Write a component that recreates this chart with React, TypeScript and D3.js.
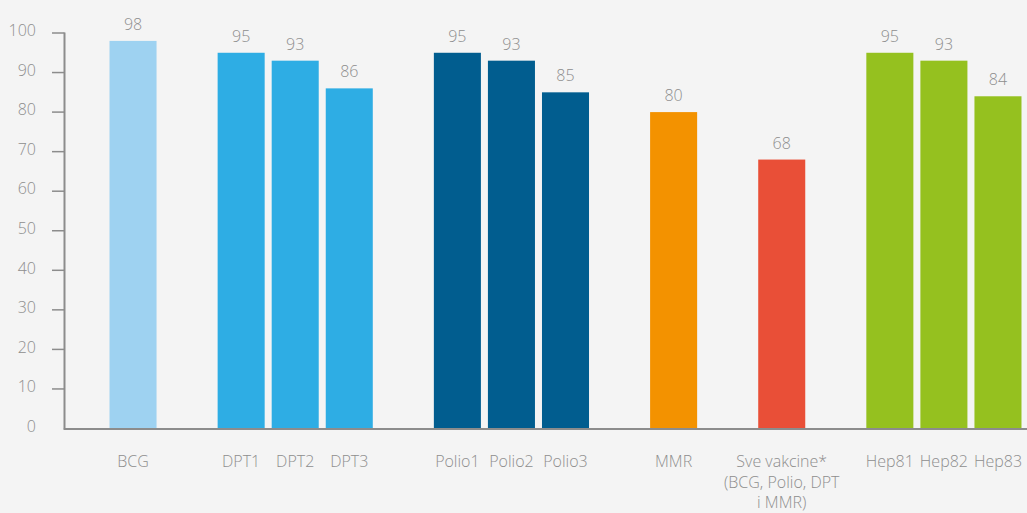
import { useEffect, useRef } from "react";
import { select, scaleBand, scaleLinear, range } from "d3";

// categories ("" entries are spacer slots between groups)
const categories = ["BCG", "", "DPT1", "DPT2", "DPT3", "", "Polio1", "Polio2", "Polio3", "", "MMR", "", "Sve vakcine*", "", "Hep81", "Hep82", "Hep83"];
const values = [98, null, 95, 93, 86, null, 95, 93, 85, null, 80, null, 68, null, 95, 93, 84];
const colors = ["#9ed2f1", null, "#2eade4", "#2eade4", "#2eade4", null, "#015d8f", "#015d8f", "#015d8f", null, "#f39200", null, "#e94f37", null, "#95c11f", "#95c11f", "#95c11f"];
const labelLines: Record<string, string[]> = {
    "Sve vakcine*": ["Sve vakcine*", "(BCG, Polio, DPT", "i MMR)"],
};
const yTicks = range(0, 101, 10);

function App() {
    const svgRef = useRef<SVGSVGElement>(null);

    useEffect(() => {
        const Width = 1027;
        const Height = 513;
        const svg = select(svgRef.current);
        svg.selectAll("*").remove();

        svg.append("rect").attr("width", Width).attr("height", Height).attr("fill", "#f4f4f4");

        const axisX = 64.5;
        const yScale = scaleLinear().domain([0, 100]).range([428.5, 33]);
        const xScale = scaleBand<number>()
            .domain(categories.map((_, i) => i))
            .range([106, 1025])
            .paddingInner(0.13)
            .paddingOuter(0.065);

        const textColor = "#8e8e8e";
        const font = "'Open Sans', sans-serif";

        // y axis
        const yAxis = svg.append("g").attr("class", "yAxis");
        yAxis.append("line")
            .attr("x1", axisX).attr("x2", axisX)
            .attr("y1", yScale(100) - 0.5).attr("y2", yScale(0))
            .attr("stroke", "#8c8c8c").attr("stroke-width", 2);
        yAxis.selectAll(".tick")
            .data(yTicks.filter((d) => d > 0))
            .join("line")
            .attr("x1", 52).attr("x2", axisX)
            .attr("y1", (d) => yScale(d)).attr("y2", (d) => yScale(d))
            .attr("stroke", "#8c8c8c").attr("stroke-width", 1.5);
        yAxis.selectAll(".tickLabel")
            .data(yTicks)
            .join("text")
            .attr("x", 36)
            .attr("y", (d) => yScale(d) - 1)
            .attr("text-anchor", "end")
            .attr("dominant-baseline", "middle")
            .attr("fill", textColor)
            .attr("font-size", 16)
            .attr("font-weight", 300)
            .style("font-family", font)
            .text((d) => d);

        // bars
        const items = categories.map((c, i) => ({ c, i, v: values[i], col: colors[i] })).filter((d) => d.v !== null);

        svg.selectAll(".bar")
            .data(items)
            .join("rect")
            .attr("x", (d) => xScale(d.i)!)
            .attr("y", (d) => yScale(d.v as number))
            .attr("width", xScale.bandwidth())
            .attr("height", (d) => yScale(0) - yScale(d.v as number))
            .attr("fill", (d) => d.col as string);

        svg.selectAll(".valueLabel")
            .data(items)
            .join("text")
            .attr("x", (d) => xScale(d.i)! + xScale.bandwidth() / 2)
            .attr("y", (d) => yScale(d.v as number) - 11)
            .attr("text-anchor", "middle")
            .attr("fill", textColor)
            .attr("font-size", 16)
            .attr("font-weight", 300)
            .style("font-family", font)
            .text((d) => d.v as number);

        // x axis line
        svg.append("line")
            .attr("x1", axisX - 1).attr("x2", Width)
            .attr("y1", yScale(0) + 0.5).attr("y2", yScale(0) + 0.5)
            .attr("stroke", "#8c8c8c").attr("stroke-width", 2);

        // category labels
        const catLabels = svg.selectAll(".catLabel")
            .data(items)
            .join("text")
            .attr("text-anchor", "middle")
            .attr("fill", textColor)
            .attr("font-size", 16)
            .attr("font-weight", 300)
            .style("font-family", font);
        catLabels.each(function (d) {
            const lines = labelLines[d.c] || [d.c];
            const cx = xScale(d.i)! + xScale.bandwidth() / 2;
            select(this).selectAll("tspan")
                .data(lines)
                .join("tspan")
                .attr("x", cx)
                .attr("y", (_, j) => 467 + j * 20.5)
                .text((t) => t);
        });
    }, []);

    return (
        <svg ref={svgRef} width={1027} height={513} style={{ position: "absolute", left: 0, top: 0 }}></svg>
    );
}

export default App;
